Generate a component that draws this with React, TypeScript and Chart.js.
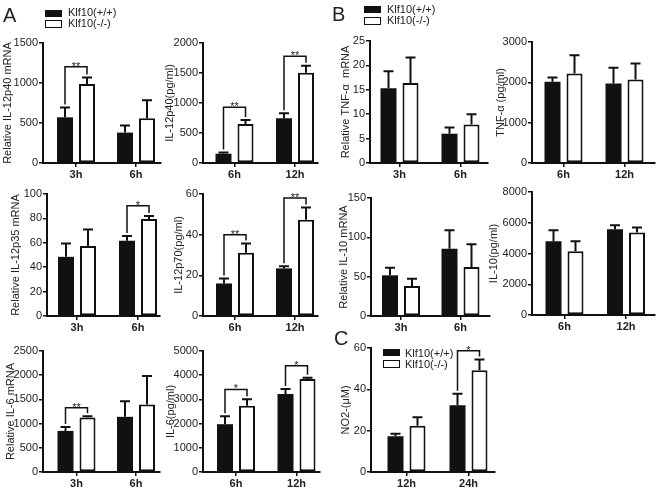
import React, { useEffect, useRef } from 'react';
import { Chart, registerables } from 'chart.js';

Chart.register(...registerables);

const FONT = '"Liberation Sans", Arial, Helvetica, sans-serif';
const INK = '#111111';
const TEXT = '#222222';

// ---- categories ----
const catsEarly = ['3h', '6h'];
const catsLate = ['6h', '12h'];
const catsNO = ['12h', '24h'];

// ---- A: IL-12p40 mRNA ----
const p40MrnaWt = [571, 380];
const p40MrnaWtSem = [123, 89];
const p40MrnaKo = [988, 559];
const p40MrnaKoSem = [81, 225];
const p40MrnaSig = [{ group: 0, level: 1204, mark: '**' }];

// ---- A: IL-12p40 protein ----
const p40ProtWt = [155, 746];
const p40ProtWtSem = [22, 83];
const p40ProtKo = [652, 1503];
const p40ProtKoSem = [66, 116];
const p40ProtSig = [
  { group: 0, level: 928, mark: '**' },
  { group: 1, level: 1779, mark: '**' },
];

// ---- B: TNF-α mRNA ----
const tnfMrnaWt = [15.3, 6.0];
const tnfMrnaWtSem = [3.5, 1.3];
const tnfMrnaKo = [16.4, 7.9];
const tnfMrnaKoSem = [5.2, 2.1];
const tnfMrnaSig: any[] = [];

// ---- B: TNF-α protein ----
const tnfProtWt = [2014, 1973];
const tnfProtWtSem = [106, 386];
const tnfProtKo = [2219, 2071];
const tnfProtKoSem = [452, 395];
const tnfProtSig: any[] = [];

// ---- A: IL-12p35 mRNA ----
const p35MrnaWt = [48.5, 61.6];
const p35MrnaWtSem = [11, 3.9];
const p35MrnaKo = [57.3, 79.5];
const p35MrnaKoSem = [13.7, 2.5];
const p35MrnaSig = [{ group: 1, level: 90.4, mark: '*' }];

// ---- A: IL-12p70 protein ----
const p70ProtWt = [16, 23.4];
const p70ProtWtSem = [2.5, 1.1];
const p70ProtKo = [31.1, 47.3];
const p70ProtKoSem = [4.6, 6.1];
const p70ProtSig = [
  { group: 0, level: 39.9, mark: '**' },
  { group: 1, level: 58, mark: '**' },
];

// ---- B: IL-10 mRNA ----
const il10MrnaWt = [51.7, 85.6];
const il10MrnaWtSem = [9.7, 23.3];
const il10MrnaKo = [38.1, 62.3];
const il10MrnaKoSem = [9.4, 28.8];
const il10MrnaSig: any[] = [];

// ---- B: IL-10 protein ----
const il10ProtWt = [4800, 5578];
const il10ProtWtSem = [714, 260];
const il10ProtKo = [4151, 5362];
const il10ProtKoSem = [649, 324];
const il10ProtSig: any[] = [];

// ---- A: IL-6 mRNA ----
const il6MrnaWt = [849, 1140];
const il6MrnaWtSem = [83, 324];
const il6MrnaKo = [1126, 1395];
const il6MrnaKoSem = [27, 587];
const il6MrnaSig = [{ group: 0, level: 1326, mark: '**' }];

// ---- A: IL-6 protein ----
const il6ProtWt = [1975, 3218];
const il6ProtWtSem = [332, 207];
const il6ProtKo = [2735, 3840];
const il6ProtKoSem = [276, 55];
const il6ProtSig = [
  { group: 0, level: 3412, mark: '*' },
  { group: 1, level: 4392, mark: '*' },
];

// ---- C: NO2- ----
const no2Wt = [17.3, 32.3];
const no2WtSem = [1.2, 5.6];
const no2Ko = [22.4, 49.2];
const no2KoSem = [4.1, 5.2];
const no2Sig = [{ group: 1, level: 58.7, mark: '*' }];

const seriesNames = ['Klf10(+/+)', 'Klf10(-/-)'];

// ---- panels (data refs + layout) ----
const panels = [
  { title: 'Relative IL-12p40 mRNA', cats: catsEarly, wt: p40MrnaWt, wtE: p40MrnaWtSem, ko: p40MrnaKo, koE: p40MrnaKoSem, sig: p40MrnaSig, max: 1500, step: 500,
    axisX: 43, topY: 43, zeroY: 163, xEnd: 161, c1: 76, c2: 136, titleX: 7.5 },
  { title: 'IL-12p40(pg/ml)', cats: catsLate, wt: p40ProtWt, wtE: p40ProtWtSem, ko: p40ProtKo, koE: p40ProtKoSem, sig: p40ProtSig, max: 2000, step: 500,
    axisX: 203, topY: 43, zeroY: 163, xEnd: 318, c1: 234.5, c2: 295, titleX: 169.5 },
  { title: 'Relative TNF-\u03b1  mRNA', cats: catsEarly, wt: tnfMrnaWt, wtE: tnfMrnaWtSem, ko: tnfMrnaKo, koE: tnfMrnaKoSem, sig: tnfMrnaSig, max: 25, step: 5,
    axisX: 370, topY: 41, zeroY: 163, xEnd: 488, c1: 399.5, c2: 460.5, titleX: 345.5 },
  { title: 'TNF-\u03b1 (pg/ml)', cats: catsLate, wt: tnfProtWt, wtE: tnfProtWtSem, ko: tnfProtKo, koE: tnfProtKoSem, sig: tnfProtSig, max: 3000, step: 1000,
    axisX: 532, topY: 42, zeroY: 163, xEnd: 655, c1: 563.5, c2: 624.5, titleX: 501 },
  { title: 'Relative IL-12p35 mRNA', cats: catsEarly, wt: p35MrnaWt, wtE: p35MrnaWtSem, ko: p35MrnaKo, koE: p35MrnaKoSem, sig: p35MrnaSig, max: 100, step: 20,
    axisX: 47, topY: 194, zeroY: 316, xEnd: 160, c1: 77, c2: 138, titleX: 16 },
  { title: 'IL-12p70(pg/ml)', cats: catsLate, wt: p70ProtWt, wtE: p70ProtWtSem, ko: p70ProtKo, koE: p70ProtKoSem, sig: p70ProtSig, max: 60, step: 20,
    axisX: 203, topY: 194, zeroY: 316, xEnd: 318, c1: 235, c2: 295, titleX: 178.5 },
  { title: 'Relative IL-10 mRNA', cats: catsEarly, wt: il10MrnaWt, wtE: il10MrnaWtSem, ko: il10MrnaKo, koE: il10MrnaKoSem, sig: il10MrnaSig, max: 150, step: 50,
    axisX: 371, topY: 198, zeroY: 316, xEnd: 490, c1: 401, c2: 460.5, titleX: 344 },
  { title: 'IL-10(pg/ml)', cats: catsLate, wt: il10ProtWt, wtE: il10ProtWtSem, ko: il10ProtKo, koE: il10ProtKoSem, sig: il10ProtSig, max: 8000, step: 2000,
    axisX: 532, topY: 192, zeroY: 315, xEnd: 655, c1: 564.5, c2: 626, titleX: 494 },
  { title: 'Relative IL-6 mRNA', cats: catsEarly, wt: il6MrnaWt, wtE: il6MrnaWtSem, ko: il6MrnaKo, koE: il6MrnaKoSem, sig: il6MrnaSig, max: 2500, step: 500,
    axisX: 43, topY: 351, zeroY: 472, xEnd: 160, c1: 76.5, c2: 136, titleX: 11 },
  { title: 'IL-6(pg/ml)', cats: catsLate, wt: il6ProtWt, wtE: il6ProtWtSem, ko: il6ProtKo, koE: il6ProtKoSem, sig: il6ProtSig, max: 5000, step: 1000,
    axisX: 203, topY: 351, zeroY: 472, xEnd: 320, c1: 236, c2: 296.5, titleX: 171 },
  { title: 'NO2-(\u03bcM)', cats: catsNO, wt: no2Wt, wtE: no2WtSem, ko: no2Ko, koE: no2KoSem, sig: no2Sig, max: 60, step: 20,
    axisX: 371, topY: 348, zeroY: 472, xEnd: 495, c1: 406.5, c2: 468.5, titleX: 346 },
];

const W_PAGE = 664;
const H_PAGE = 491;

function makeErrPlugin(p: any) {
  return {
    id: 'errAndSig',
    afterDatasetsDraw(chart: any) {
      const ctx = chart.ctx;
      const ys = chart.scales.y;
      const tops: number[][] = [[], []];
      ctx.save();
      ctx.strokeStyle = INK;
      ctx.lineWidth = 2;
      ctx.lineCap = 'butt';
      [[p.wt, p.wtE], [p.ko, p.koE]].forEach(([vals, errs]: any, di: number) => {
        const meta = chart.getDatasetMeta(di);
        meta.data.forEach((bar: any, i: number) => {
          const x = bar.x;
          const yTop = ys.getPixelForValue(vals[i]);
          const yE = ys.getPixelForValue(vals[i] + errs[i]);
          ctx.beginPath();
          ctx.moveTo(x, yTop);
          ctx.lineTo(x, yE);
          ctx.moveTo(x - 5, yE);
          ctx.lineTo(x + 5, yE);
          ctx.stroke();
          tops[di][i] = yE;
        });
      });
      ctx.lineWidth = 1.5;
      p.sig.forEach((s: any) => {
        const xa = chart.getDatasetMeta(0).data[s.group].x;
        const xb = chart.getDatasetMeta(1).data[s.group].x;
        const yl = ys.getPixelForValue(s.level);
        ctx.beginPath();
        ctx.moveTo(xa, tops[0][s.group] - 3);
        ctx.lineTo(xa, yl);
        ctx.lineTo(xb, yl);
        ctx.lineTo(xb, tops[1][s.group] - 3);
        ctx.stroke();
        ctx.fillStyle = TEXT;
        ctx.font = `11px ${FONT}`;
        ctx.textAlign = 'center';
        ctx.textBaseline = 'alphabetic';
        ctx.fillText(s.mark, (xa + xb) / 2, yl + 3);
      });
      ctx.restore();
    },
  };
}

function Panel({ p }: { p: any }) {
  const ref = useRef<HTMLCanvasElement | null>(null);
  useEffect(() => {
    if (!ref.current) return;
    const s = p.c2 - p.c1;
    const H = 16;
    const padLeft = p.titleX - 6.6;
    const yW = p.axisX - padLeft;
    const chart = new Chart(ref.current, {
      type: 'bar',
      data: {
        datasets: [
          {
            label: seriesNames[0],
            data: p.wt.map((v: number, i: number) => ({ x: i, y: v })),
            backgroundColor: INK,
            borderColor: INK,
            borderWidth: 0,
            borderSkipped: false,
          },
          {
            label: seriesNames[1],
            data: p.ko.map((v: number, i: number) => ({ x: i, y: v })),
            backgroundColor: '#ffffff',
            borderColor: INK,
            borderWidth: 2,
            borderSkipped: false,
          },
        ],
      } as any,
      options: {
        responsive: false,
        animation: false,
        devicePixelRatio: 1,
        layout: {
          padding: { left: padLeft, top: p.topY, right: W_PAGE - p.xEnd, bottom: H_PAGE - p.zeroY - H },
        },
        datasets: { bar: { categoryPercentage: 44 / s, barPercentage: 16 / 22 } },
        plugins: { legend: { display: false }, tooltip: { enabled: false } },
        scales: {
          x: {
            type: 'linear',
            min: -(p.c1 - p.axisX) / s,
            max: 1 + (p.xEnd - p.c2) / s,
            offset: false,
            afterBuildTicks: (sc: any) => {
              sc.ticks = p.cats.map((_: string, i: number) => ({ value: i }));
            },
            afterFit: (sc: any) => {
              sc.height = H;
            },
            ticks: {
              callback: (_v: any, i: number) => p.cats[i],
              font: { family: FONT, size: 11, weight: 'bold' },
              color: TEXT,
              padding: 1,
              maxRotation: 0,
              autoSkip: false,
            },
            grid: { display: true, drawOnChartArea: false, drawTicks: true, tickLength: 4, color: INK, lineWidth: 1.5, offset: false },
            border: { display: true, color: INK, width: 2 },
          },
          y: {
            type: 'linear',
            min: 0,
            max: p.max,
            afterFit: (sc: any) => {
              sc.width = yW;
            },
            ticks: {
              stepSize: p.step,
              callback: (v: any) => String(v),
              font: { family: FONT, size: 11 },
              color: TEXT,
              padding: 1,
            },
            grid: { display: true, drawOnChartArea: false, drawTicks: true, tickLength: 4, color: INK, lineWidth: 1.5 },
            border: { display: true, color: INK, width: 2 },
            title: { display: true, text: p.title, font: { family: FONT, size: 11 }, color: TEXT, padding: 0 },
          },
        },
      } as any,
      plugins: [makeErrPlugin(p)],
    });
    return () => chart.destroy();
  }, [p]);
  return (
    <canvas
      ref={ref}
      width={W_PAGE}
      height={H_PAGE}
      style={{ position: 'absolute', left: 0, top: 0, width: W_PAGE, height: H_PAGE }}
    />
  );
}

function Legend({ x, y, textX, textTops }: { x: number; y: number[]; textX: number; textTops: number[] }) {
  return (
    <>
      <div style={{ position: 'absolute', left: x, top: y[0], width: 17, height: 7, background: INK }} />
      <div style={{ position: 'absolute', left: x, top: y[1], width: 17, height: 8, boxSizing: 'border-box', border: `1.5px solid ${INK}`, background: '#fff' }} />
      {seriesNames.map((n, i) => (
        <div key={n} style={{ position: 'absolute', left: textX, top: textTops[i], fontSize: 11, lineHeight: '13px', color: TEXT, whiteSpace: 'nowrap' }}>
          {n}
        </div>
      ))}
    </>
  );
}

export default function App() {
  const letter = (t: string, left: number, top: number) => (
    <div style={{ position: 'absolute', left, top, fontSize: 20, lineHeight: '20px', color: TEXT }}>{t}</div>
  );
  return (
    <div style={{ position: 'absolute', left: 0, top: 0, width: W_PAGE, height: H_PAGE, background: '#fff', fontFamily: FONT, overflow: 'hidden' }}>
      {panels.map((p, i) => (
        <Panel key={i} p={p} />
      ))}
      {letter('A', 3, 5)}
      {letter('B', 332, 4)}
      {letter('C', 334, 328)}
      <Legend x={45} y={[10, 20]} textX={68} textTops={[6, 17]} />
      <Legend x={364} y={[6, 17]} textX={387} textTops={[3, 14]} />
      <Legend x={383} y={[349, 360]} textX={405} textTops={[347, 358]} />
    </div>
  );
}
